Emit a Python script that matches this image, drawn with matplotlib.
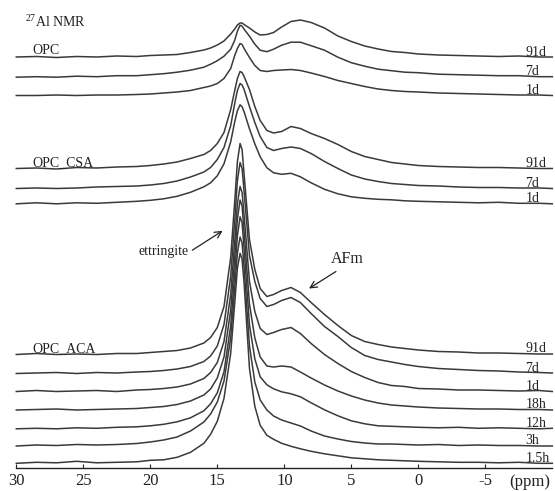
import matplotlib.pyplot as plt

plt.rcParams["font.family"] = ["Liberation Serif", "DejaVu Serif"]
plt.rcParams["mathtext.fontset"] = "custom"
plt.rcParams["mathtext.rm"] = "Liberation Serif"

_LINE = "#3a3a3a"

# chemical shift grid (ppm) shared by every spectrum
PPM = [30, 28.5, 27, 25.5, 24, 22.5, 21, 20, 19, 18, 17, 16, 15.5, 15, 14.5,
       14, 13.7, 13.5, 13.3, 13.15, 13.0, 12.6, 12.2, 11.8, 11.3, 10.8, 10.2,
       9.5, 8.8, 8.0, 7.0, 6.0, 5.0, 4.0, 3.0, 2.0, 1.0, 0, -1.5, -3, -4.5,
       -6, -7.5, -9, -10]

# intensities (a.u.) above each trace's own baseline
OPC_91D = [0, 0.5, -0.5, 0.5, 0, 1, 0.5, 1.5, 2, 2.5, 4.5, 7, 9, 12, 16,
           23, 28, 32, 34, 34, 32.5, 29, 25, 22, 22.5, 24.5, 30,
           35.5, 37, 34.5, 29, 21, 15.5, 11, 8, 5.5, 4.5, 3, 2, 1.5, 1,
           0.5, 1, 0, 0]
OPC_7D = [0, 0.5, 0, 1, 0.5, 1.5, 1.5, 2.5, 3.5, 5, 7, 10, 13, 16.5, 21,
          28, 37, 46, 52, 51, 48, 41, 33, 27, 25.5, 28, 32,
          35, 35, 31.5, 27, 20, 14.5, 11, 8, 6.5, 5, 4.5, 3, 2.5, 2,
          1.5, 1.5, 0.5, 0.5]
OPC_1D = [0, 0, 0.5, 0, 0.5, 0.5, 1, 1.5, 2.5, 3.5, 5, 8, 9.5, 12, 17,
          27, 40, 47, 52, 51, 47, 38, 30, 25, 24, 25, 25.5,
          26, 25, 22.5, 19, 15, 12, 9, 6.5, 5, 4, 3.5, 2.5, 2, 1.5,
          1, 0.5, 0.5, 0]

CSA_91D = [0, 0.5, -0.5, 1, 0.5, 1.5, 2, 3, 4.5, 6.5, 10, 14, 18, 25, 36,
           59, 78, 90, 97, 96, 92, 79, 62, 48, 38, 35.5, 37,
           42, 40, 35, 30, 24, 17, 12, 9, 6, 4.5, 3, 2, 1.5, 1,
           1, 0.5, 0, 0]
CSA_7D = [0, 0.5, 0, 0.5, 1.5, 2, 2.5, 3.5, 5, 7.5, 11.5, 16.5, 21, 29, 41,
          63, 85, 98, 105, 103.5, 99, 82, 66, 52, 41, 38, 40,
          41.5, 40, 35, 27, 20, 13.5, 9.5, 7, 5, 4, 3, 2.5, 1.5, 1,
          1, 0.5, 0.5, 0]
CSA_1D = [0, 1, 0, 1, 0.5, 1.5, 2.5, 3.5, 5, 7.5, 11.5, 17, 21, 28, 40,
          62, 82, 93, 99, 97, 92, 75, 60, 47, 36, 31, 29.5,
          30.5, 27, 21, 14.5, 10, 7, 5.5, 4.5, 4, 3, 2.5, 2, 1.5, 1,
          1.5, 0.5, 0.5, 0]

ACA_91D = [0, 1, 0, 0.5, 0, 1, 1, 2, 3, 4, 6.5, 11.5, 17, 27, 48,
           97, 153, 193, 211, 205, 180, 115, 85, 66, 58, 60, 64,
           67, 62, 52, 40, 29, 19, 13, 10, 7.5, 6, 4.5, 3, 2.5, 1.5,
           1.5, 1, 0.5, 0.5]
ACA_7D = [0, 0.5, 1, 0, 1, 0.5, 1.5, 2, 3, 4.5, 7, 12, 17.5, 27.5, 49,
          97, 153, 193, 211, 205, 182, 118, 92, 75, 67, 69, 73,
          76, 71, 60, 47, 37, 26, 18, 14, 11.5, 9, 7, 5, 4, 3,
          2.5, 1.5, 1, 0.5]
ACA_1D = [0, 1, 0, 0.5, 1, 0, 1.5, 2, 3, 4.5, 7.5, 13, 19, 29, 50,
          97, 150, 188, 205, 199, 176, 110, 80, 63, 57, 59, 62,
          64, 58, 48, 37, 28, 20, 14, 9, 6, 5, 3, 2.5, 1.5, 1.5,
          1, 0.5, 1, 0]
ACA_18H = [0, 0.5, 1, 0, 0.5, 1, 1.5, 2.5, 3.5, 5.5, 9, 15, 21, 32, 53,
           100, 152, 191, 210, 204, 178, 106, 72, 53, 44, 43, 44,
           43, 38, 32, 25, 19, 14, 10, 7, 5, 4, 3, 2, 1.5, 1,
           1, 0.5, 0.5, 0]
ACA_12H = [0, 0.5, 0, 1, 0.5, 1.5, 2, 3, 4.5, 7, 11, 18, 25, 36, 57,
           103, 155, 193, 212, 206, 180, 104, 70, 52, 44, 40, 37,
           35, 32, 26, 19, 13, 8, 5, 3, 2.5, 2, 1.5, 1, 1.5, 0.5,
           1, 0.5, 0, 0.5]
ACA_3H = [0, 1, 0.5, 1.5, 1, 1.5, 2.5, 4, 6, 9, 15, 24, 32, 44, 65,
          108, 158, 193, 209, 203, 178, 100, 64, 46, 36, 30, 26,
          23, 20, 15, 10, 7, 4.5, 3, 2, 2, 1.5, 1, 1.5, 0.5, 1,
          0.5, 0.5, 0, 0]
ACA_15H = [0, 1, 0.5, 2, 0.5, 1, 1.5, 3, 3.5, 6, 11, 20, 29, 42, 65,
           110, 160, 195, 210, 204, 180, 95, 57, 38, 28, 24, 20,
           17, 14.5, 12, 9.5, 7.5, 5.5, 4.5, 3.5, 3, 2.5, 2, 1.5, 1, 1,
           0.5, 1, 0, 0]

# vertical stacking offset of each trace (a.u.)
OPC_OFFSETS = [411, 390.8, 372.5]
CSA_OFFSETS = [299.5, 279.5, 264.2]
ACA_OFFSETS = [113.5, 94.5, 76.5, 58, 39.2, 22, 4.7]

GROUPS = [
    ("OPC", ["91d", "7d", "1d"], [OPC_91D, OPC_7D, OPC_1D], OPC_OFFSETS),
    ("OPC_CSA", ["91d", "7d", "1d"], [CSA_91D, CSA_7D, CSA_1D], CSA_OFFSETS),
    ("OPC_ACA", ["91d", "7d", "1d", "18h", "12h", "3h", "1.5h"],
     [ACA_91D, ACA_7D, ACA_1D, ACA_18H, ACA_12H, ACA_3H, ACA_15H], ACA_OFFSETS),
]

XTICKS = [30, 25, 20, 15, 10, 5, 0, -5]
XTICK_LABELS = ["30", "25", "20", "15", "10", "5", "0", "-5"]

fig = plt.figure(figsize=(5.55, 4.91), dpi=100)
ax = fig.add_axes([16.3 / 555, 23 / 491, 536 / 555, 468 / 491])

for name, ages, curves, offsets in GROUPS:
    for age, vals, off in zip(ages, curves, offsets):
        ax.plot(PPM, [v + off for v in vals], color=_LINE, linewidth=1.1,
                solid_joinstyle="round", clip_on=False)
        ax.text(-8.0, vals[-1] + off + 1.5, age, ha="left", va="baseline",
                fontsize=10, color="#222222")
    ax.text(28.8, offsets[0] + vals[0] * 0 + 2.5, name, ha="left",
            va="baseline", fontsize=10, color="#222222")

ax.text(29.35, 446.3, r"$^{27}$Al NMR", ha="left", va="center",
        fontsize=10, color="#222222")

ax.text(19.0, 216, "ettringite", ha="center", va="center", fontsize=10,
        color="#222222")
ax.annotate("", xy=(14.43, 238.7), xytext=(17.04, 216.3),
            arrowprops=dict(arrowstyle="->", lw=0.9, color="#222222",
                            mutation_scale=12))
ax.text(5.28, 209, "AFm", ha="center", va="center", fontsize=11.5,
        color="#222222")
ax.annotate("", xy=(8.33, 178), xytext=(5.97, 198),
            arrowprops=dict(arrowstyle="->", lw=0.9, color="#222222",
                            mutation_scale=12))

ax.set_xlim(30, -10)
ax.set_ylim(0, 468)
for side in ("left", "right", "top"):
    ax.spines[side].set_visible(False)
ax.spines["bottom"].set_linewidth(1.0)
ax.spines["bottom"].set_color("#222222")
ax.set_yticks([])
ax.set_xticks(XTICKS)
ax.set_xticklabels(XTICK_LABELS)
ax.tick_params(axis="x", direction="in", length=3, width=0.8, pad=3.5,
               labelsize=12, colors="#222222")
ax.text(-8.3, -13.7, "(ppm)", ha="center", va="center", fontsize=12,
        color="#222222", clip_on=False)

fig.savefig("out.png", dpi=100)
